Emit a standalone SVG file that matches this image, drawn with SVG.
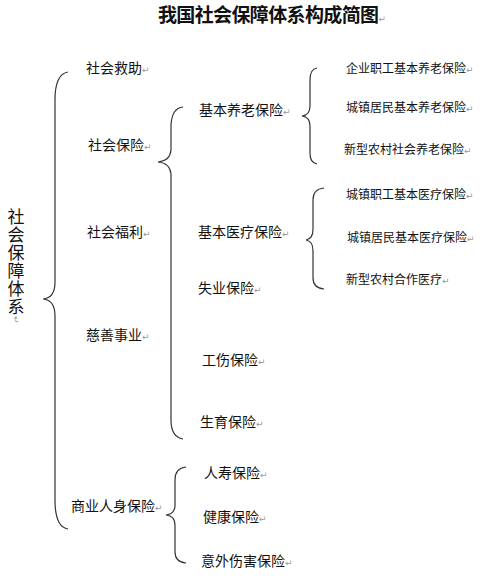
<svg xmlns="http://www.w3.org/2000/svg" width="500" height="576" viewBox="0 0 500 576">
<style>
text{font-family:"Noto Sans CJK SC","Noto Sans",sans-serif;fill:#111}
.t{font-size:19px;font-weight:bold}
.l{font-size:14px}
.s{font-size:12px}
.v{font-size:17px;writing-mode:vertical-rl;letter-spacing:1px}
.m{font-size:9px;fill:#999;font-family:"DejaVu Sans",sans-serif;font-weight:normal;letter-spacing:0}
.b{fill:none;stroke:#333;stroke-width:1.2}
</style>
<rect width="500" height="576" fill="#fff"/>
<g id="title"><text class="t" x="158" y="22" textLength="228">我国社会保障体系构成简图<tspan class="m">↵</tspan></text></g>
<g id="root"><text class="v" x="16" y="208">社会保障体系<tspan class="m">↵</tspan></text></g>
<g id="n-jiuzhu"><text class="l" x="86" y="73">社会救助<tspan class="m">↵</tspan></text></g>
<g id="n-baoxian"><text class="l" x="88" y="150">社会保险<tspan class="m">↵</tspan></text></g>
<g id="n-fuli"><text class="l" x="87" y="237">社会福利<tspan class="m">↵</tspan></text></g>
<g id="n-cishan"><text class="l" x="86" y="340">慈善事业<tspan class="m">↵</tspan></text></g>
<g id="n-shangye"><text class="l" x="71" y="511">商业人身保险<tspan class="m">↵</tspan></text></g>
<g id="n-yanglao"><text class="l" x="199" y="115">基本养老保险<tspan class="m">↵</tspan></text></g>
<g id="n-yiliao"><text class="l" x="198" y="237">基本医疗保险<tspan class="m">↵</tspan></text></g>
<g id="n-shiye"><text class="l" x="198" y="293">失业保险<tspan class="m">↵</tspan></text></g>
<g id="n-gongshang"><text class="l" x="202" y="365">工伤保险<tspan class="m">↵</tspan></text></g>
<g id="n-shengyu"><text class="l" x="200" y="427">生育保险<tspan class="m">↵</tspan></text></g>
<g id="n-y1"><text class="s" x="346" y="73">企业职工基本养老保险<tspan class="m">↵</tspan></text></g>
<g id="n-y2"><text class="s" x="346" y="112">城镇居民基本养老保险<tspan class="m">↵</tspan></text></g>
<g id="n-y3"><text class="s" x="344" y="154">新型农村社会养老保险<tspan class="m">↵</tspan></text></g>
<g id="n-m1"><text class="s" x="346" y="199">城镇职工基本医疗保险<tspan class="m">↵</tspan></text></g>
<g id="n-m2"><text class="s" x="347" y="242">城镇居民基本医疗保险<tspan class="m">↵</tspan></text></g>
<g id="n-m3"><text class="s" x="346" y="284">新型农村合作医疗<tspan class="m">↵</tspan></text></g>
<g id="n-renshou"><text class="l" x="204" y="478">人寿保险<tspan class="m">↵</tspan></text></g>
<g id="n-jiankang"><text class="l" x="203" y="522">健康保险<tspan class="m">↵</tspan></text></g>
<g id="n-yiwai"><text class="l" x="201" y="566">意外伤害保险<tspan class="m">↵</tspan></text></g>
<g id="connectors">
<path class="b" d="M68,72 Q55,74 55,100 L55,282 Q55,298 43,299 Q55,300 55,316 L55,500 Q55,527 68,529"/>
<path class="b" d="M183,107 Q172,108 171,125 L171,150 Q170,161 158,162 Q170,163 171,174 L171,420 Q171,437 183,439"/>
<path class="b" d="M317,68 Q310,69 310,80 L310,106 Q310,115 302,116 Q310,117 310,126 L310,153 Q310,163 317,164"/>
<path class="b" d="M324,188 Q313,189 313,200 L313,229 Q313,239 306,240 Q313,241 313,251 L313,278 Q313,288 324,289"/>
<path class="b" d="M186,467 Q175,468 175,480 L175,505 Q175,514 166,515 Q175,516 175,525 L175,552 Q175,562 186,563"/>
</g>
</svg>
